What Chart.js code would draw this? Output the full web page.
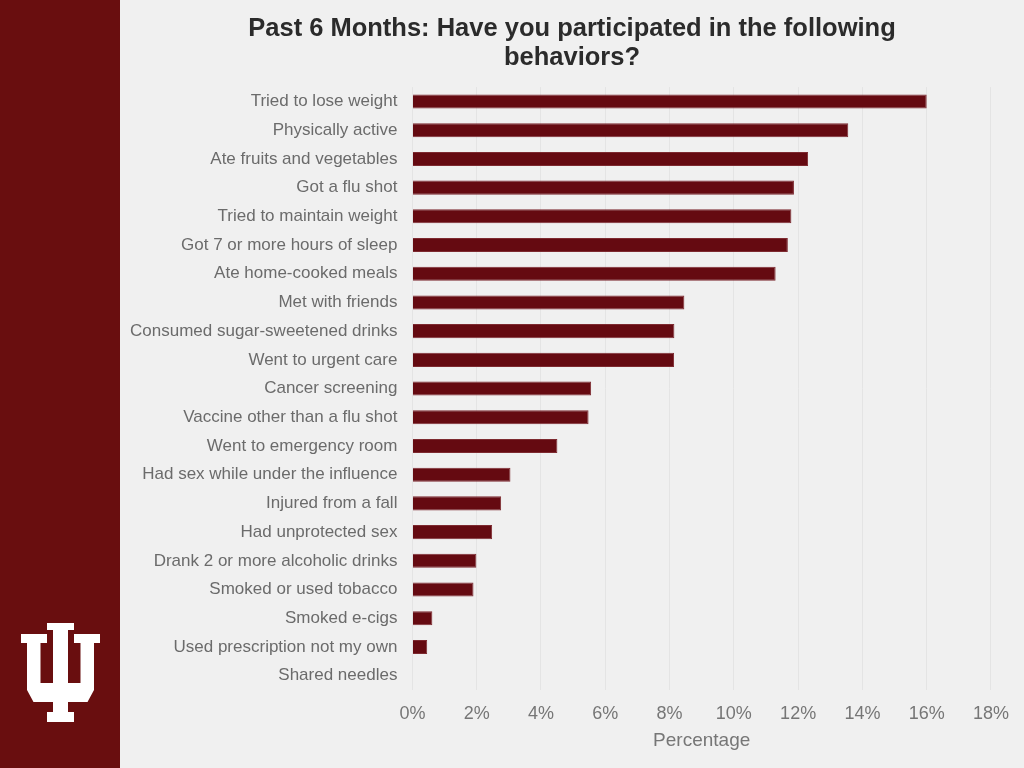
<!DOCTYPE html>
<html>
<head>
<meta charset="utf-8">
<script src="https://cdn.jsdelivr.net/npm/chart.js@4"></script>
<style>
  html, body { margin: 0; padding: 0; background: #f0f0f0; }
  body { width: 1024px; height: 768px; position: relative; overflow: hidden; }
  #sidebar { position: absolute; left: 0; top: 0; width: 120px; height: 768px; background: #690e0f; }
  #sidebar svg { position: absolute; left: 0; top: 0; }
  #wrap { position: absolute; left: 120px; top: 0; width: 904px; height: 768px; }
</style>
</head>
<body>
<div id="sidebar">
  <svg width="120" height="768" viewBox="0 0 120 768">
    <path fill="#ffffff" d="
      M47,623 L74,623 L74,630 L68,630 L68,683 L80.5,683 L80.5,643 L74,643 L74,634 L100,634 L100,643 L94,643
      L94,690 L87.5,702 L68,702 L68,712 L74,712 L74,722 L47,722 L47,712 L53,712 L53,702 L33.5,702
      L27,690 L27,643 L21,643 L21,634 L47,634 L47,643 L40.5,643 L40.5,683 L53,683 L53,630 L47,630 Z"/>
  </svg>
</div>
<div id="wrap"><canvas id="chart" width="904" height="768"></canvas></div>
<script>
  // Data
  const categories = [
    'Tried to lose weight',
    'Physically active',
    'Ate fruits and vegetables',
    'Got a flu shot',
    'Tried to maintain weight',
    'Got 7 or more hours of sleep',
    'Ate home-cooked meals',
    'Met with friends',
    'Consumed sugar-sweetened drinks',
    'Went to urgent care',
    'Cancer screening',
    'Vaccine other than a flu shot',
    'Went to emergency room',
    'Had sex while under the influence',
    'Injured from a fall',
    'Had unprotected sex',
    'Drank 2 or more alcoholic drinks',
    'Smoked or used tobacco',
    'Smoked e-cigs',
    'Used prescription not my own',
    'Shared needles'
  ];
  const percentages = [16.0, 13.56, 12.31, 11.87, 11.79, 11.68, 11.3, 8.46, 8.15, 8.14,
                       5.56, 5.48, 4.51, 3.05, 2.76, 2.48, 1.99, 1.9, 0.62, 0.46, 0];
  const xTicks = [0, 2, 4, 6, 8, 10, 12, 14, 16, 18];

  // keep the title centred on the whole canvas, not on the padded area
  const centreTitle = {
    id: 'centreTitle',
    afterLayout(chart) {
      if (chart.titleBlock) {
        chart.titleBlock.left = 0;
        chart.titleBlock.right = chart.width;
      }
    }
  };

  const ctx = document.getElementById('chart').getContext('2d');
  new Chart(ctx, {
    type: 'bar',
    data: {
      labels: categories,
      datasets: [{
        label: 'Percentage',
        data: percentages,
        backgroundColor: '#650a11',
        borderColor: '#7d2a30',
        borderWidth: 1,
        barPercentage: 0.7,
        categoryPercentage: 0.7
      }]
    },
    options: {
      indexAxis: 'y',
      responsive: false,
      animation: false,
      layout: { padding: { left: -5, right: 27, top: 8, bottom: 18 } },
      plugins: {
        legend: { display: false },
        tooltip: { enabled: false },
        title: {
          display: true,
          text: ['Past 6 Months: Have you participated in the following', 'behaviors?'],
          color: '#2b2b2b',
          font: { family: '"Liberation Sans", Arial, sans-serif', size: 25.5, weight: 'bold', lineHeight: 1.14 },
          padding: { top: 6, bottom: 15 }
        }
      },
      scales: {
        x: {
          min: 0,
          max: 18,
          afterBuildTicks: axis => { axis.ticks = xTicks.map(v => ({ value: v })); },
          grid: { color: '#e4e4e4', drawTicks: false },
          border: { display: false },
          ticks: {
            color: '#767676',
            padding: 15,
            font: { family: '"Liberation Sans", Arial, sans-serif', size: 18, lineHeight: 1 },
            callback: value => value + '%'
          },
          title: {
            display: true,
            text: 'Percentage',
            color: '#767676',
            font: { family: '"Liberation Sans", Arial, sans-serif', size: 19, lineHeight: 1 },
            padding: { top: -7, bottom: 0 }
          }
        },
        y: {
          grid: { display: false, drawTicks: false },
          border: { display: false },
          ticks: {
            color: '#6b6b6b',
            padding: 15,
            autoSkip: false,
            font: { family: '"Liberation Sans", Arial, sans-serif', size: 17 }
          }
        }
      }
    },
    plugins: [centreTitle]
  });
</script>
</body>
</html>
